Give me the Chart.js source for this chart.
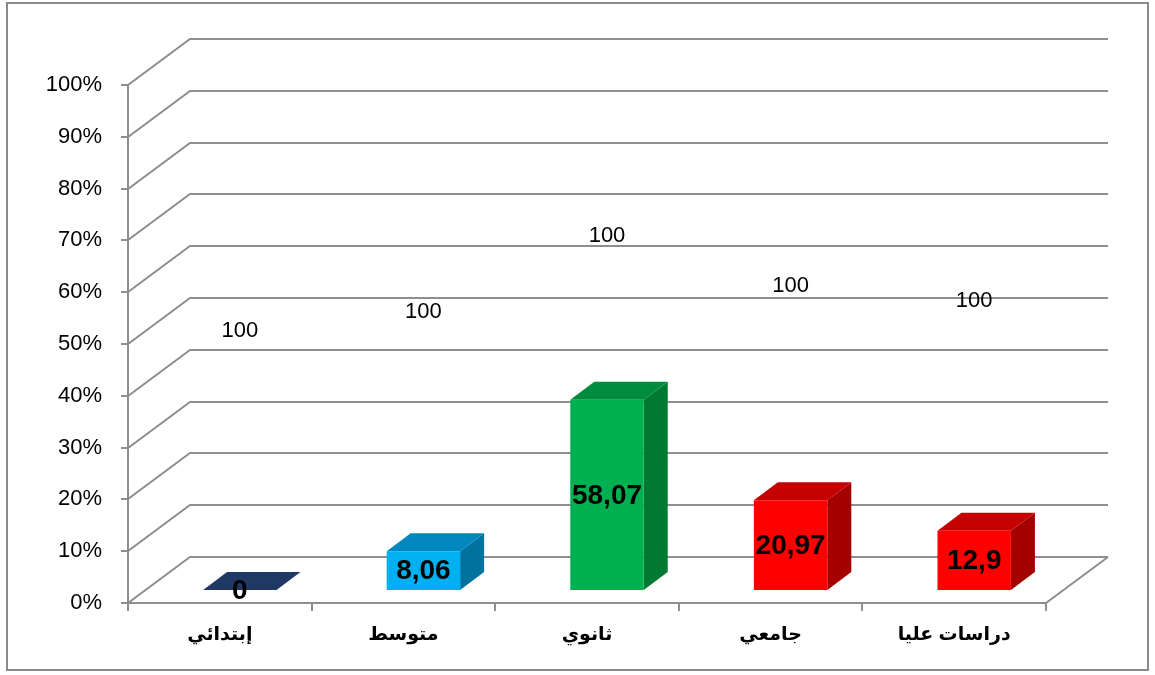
<!DOCTYPE html>
<html>
<head>
<meta charset="utf-8">
<script src="https://cdn.jsdelivr.net/npm/chart.js@4"></script>
<style>
  body { margin: 0; background: #fff; }
</style>
</head>
<body>
<canvas id="myChart" width="1155" height="675"></canvas>
<script>
// data
var categories = ['إبتدائي', 'متوسط', 'ثانوي', 'جامعي', 'دراسات عليا'];
var values = [0, 8.06, 58.07, 20.97, 12.9];
var valueLabels = ['0', '8,06', '58,07', '20,97', '12,9'];
var rest = [100, 100, 100, 100, 100];
var restLabels = ['100', '100', '100', '100', '100'];

var frontColors = ['#1F3864', '#00B0F0', '#00B050', '#FF0000', '#FF0000'];
var sideColors  = ['#16294a', '#0072A0', '#007A32', '#A50000', '#A50000'];
var topColors   = ['#1F3864', '#0088BE', '#008C3E', '#C40000', '#C40000'];

// 100% stacked: share of each part in its column
var valueShare = values.map(function (v, i) { return v / (v + rest[i]) * 100; });
var restShare = values.map(function (v, i) { return rest[i] / (v + rest[i]) * 100; });

// 3d offsets
var WDX = 62, WDY = -46;   // back wall
var SX = 20, SY = -13;     // bar front face
var BDX = 24, BDY = -18;   // bar depth
var lineColor = '#8E8E8E';

function poly(ctx, pts, color) {
    ctx.beginPath();
    ctx.moveTo(pts[0][0], pts[0][1]);
    for (var i = 1; i < pts.length; i++) ctx.lineTo(pts[i][0], pts[i][1]);
    ctx.closePath();
    ctx.fillStyle = color;
    ctx.fill();
}

var threeD = {
    id: 'threeD',
    beforeDraw: function (chart) {
        var ctx = chart.ctx;
        ctx.save();
        ctx.strokeStyle = '#8A8A8A';
        ctx.lineWidth = 2;
        ctx.strokeRect(7, 3, 1141, 667);
        ctx.restore();
    },
    beforeDatasetsDraw: function (chart) {
        var ctx = chart.ctx, a = chart.chartArea, y = chart.scales.y;
        ctx.save();
        ctx.strokeStyle = lineColor;
        ctx.lineWidth = 2;
        // back wall + left wall lines
        y.ticks.forEach(function (t) {
            var py = Math.round(y.getPixelForValue(t.value));
            ctx.beginPath();
            ctx.moveTo(a.left - 7, py);
            ctx.lineTo(a.left, py);
            ctx.lineTo(a.left + WDX, py + WDY);
            ctx.lineTo(a.right + WDX, py + WDY);
            ctx.stroke();
        });
        // floor right edge, front axis line
        ctx.beginPath();
        ctx.moveTo(a.right + WDX, a.bottom + WDY);
        ctx.lineTo(a.right, a.bottom);
        ctx.lineTo(a.left, a.bottom);
        ctx.lineTo(a.left, a.top);
        ctx.stroke();
        // x ticks
        var step = (a.right - a.left) / categories.length;
        for (var i = 0; i <= categories.length; i++) {
            var px = Math.round(a.left + i * step);
            ctx.beginPath();
            ctx.moveTo(px, a.bottom);
            ctx.lineTo(px, a.bottom + 8);
            ctx.stroke();
        }
        // bar sides and tops
        var meta = chart.getDatasetMeta(0);
        meta.data.forEach(function (el, i) {
            var l = el.x - el.width / 2 + SX, r = el.x + el.width / 2 + SX;
            var tp = el.y + SY, bt = el.base + SY;
            poly(ctx, [[r, tp], [r + BDX, tp + BDY], [r + BDX, bt + BDY], [r, bt]], sideColors[i]);
            poly(ctx, [[l, tp], [l + BDX, tp + BDY], [r + BDX, tp + BDY], [r, tp]], topColors[i]);
        });
        ctx.restore();
        ctx.save();
        ctx.translate(SX, SY);
    },
    afterDatasetsDraw: function (chart) {
        var ctx = chart.ctx;
        ctx.restore();
        ctx.save();
        ctx.fillStyle = '#000';
        ctx.textAlign = 'center';
        ctx.textBaseline = 'middle';
        ctx.font = 'bold 28px "Liberation Sans", Arial, sans-serif';
        chart.getDatasetMeta(0).data.forEach(function (el, i) {
            ctx.fillText(valueLabels[i], el.x + SX, (el.y + el.base) / 2 + SY + 1);
        });
        ctx.font = '22px "Liberation Sans", Arial, sans-serif';
        chart.getDatasetMeta(1).data.forEach(function (el, i) {
            ctx.fillText(restLabels[i], el.x + SX, (el.y + el.base) / 2 + SY);
        });
        ctx.restore();
    }
};

var ctx = document.getElementById('myChart').getContext('2d');
var myChart = new Chart(ctx, {
    type: 'bar',
    data: {
        labels: categories,
        datasets: [{
            data: valueShare,
            backgroundColor: frontColors,
            borderWidth: 0,
            barPercentage: 0.4,
            categoryPercentage: 1
        }, {
            data: restShare,
            backgroundColor: 'rgba(0,0,0,0)',
            borderWidth: 0,
            barPercentage: 0.4,
            categoryPercentage: 1
        }]
    },
    options: {
        responsive: false,
        animation: false,
        layout: { padding: { top: 85, right: 109, left: 0, bottom: 0 } },
        plugins: { legend: { display: false }, tooltip: { enabled: false } },
        scales: {
            x: {
                stacked: true,
                grid: { display: false, drawTicks: false },
                border: { display: false },
                ticks: {
                    padding: 20,
                    color: '#000',
                    font: { family: '"Liberation Sans", "DejaVu Sans", Arial, sans-serif', size: 19, weight: 'bold' }
                },
                afterFit: function (s) { s.height = 72; }
            },
            y: {
                stacked: true,
                min: 0,
                max: 100,
                grid: { display: false, drawTicks: false },
                border: { display: false },
                ticks: {
                    stepSize: 10,
                    padding: 26,
                    color: '#000',
                    font: { family: '"Liberation Sans", Arial, sans-serif', size: 22 },
                    callback: function (v) { return v + '%'; }
                },
                afterFit: function (s) { s.width = 128; }
            }
        }
    },
    plugins: [threeD]
});
</script>
</body>
</html>
